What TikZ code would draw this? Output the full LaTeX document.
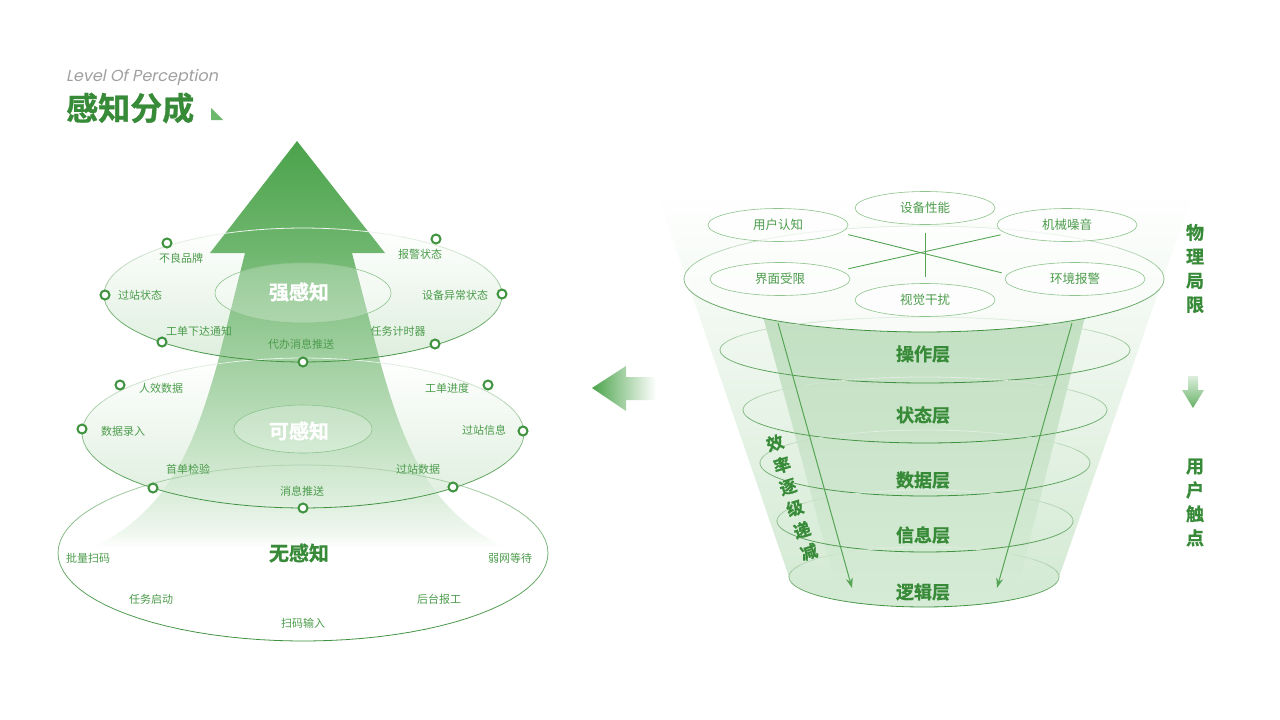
\documentclass[tikz,border=0pt]{standalone}
\usepackage{fontspec}
\setmainfont{Noto Sans CJK SC}
\newfontfamily\heavy{Noto Sans CJK SC Bold}[FakeBold=0.9]
\newfontfamily\levfont{Poppins}[FakeSlant=0.2]
\usetikzlibrary{shapes.geometric,arrows.meta}
\definecolor{gA}{HTML}{4BA34B}
\definecolor{gD}{HTML}{3E913E}
\definecolor{gT}{HTML}{378A37}
\definecolor{gL}{HTML}{4C9C4C}
\definecolor{gM}{HTML}{3F933F}
\definecolor{gO}{HTML}{8CC48C}
\definecolor{gF}{HTML}{DDEEDD}
\definecolor{gTri}{HTML}{6CB86C}
\definecolor{gGray}{HTML}{A0A0A0}
\definecolor{gLine}{HTML}{55A555}
\definecolor{gP1}{HTML}{EEF7EE}
\definecolor{gP2}{HTML}{DDEEDD}
\definecolor{gP3}{HTML}{CAE5CA}
\definecolor{gP4}{HTML}{B5DAB5}
\definecolor{gP5}{HTML}{A2D0A2}
\definecolor{gP6}{HTML}{88C388}
\definecolor{gP7}{HTML}{70B770}
\definecolor{gFunO}{HTML}{D2E9D2}
\definecolor{gBandT}{HTML}{C3E0C3}
\definecolor{gBandB}{HTML}{D6EBD6}
\pgfdeclareverticalshading{arrowshade}{100bp}{color(0bp)=(white); color(25bp)=(white); color(27bp)=(gP1); color(31bp)=(gP2); color(36bp)=(gP3); color(42bp)=(gP4); color(48bp)=(gP5); color(55.5bp)=(gP6); color(61bp)=(gP7); color(75bp)=(gA); color(100bp)=(gA)}
\newcommand\grell[6]{%
  \foreach \a in {0,12,...,348}{%
    \pgfmathtruncatemacro\pp{#5+(100-#5)*(1+sin(\a+6))/2}%
    \pgfmathsetmacro\bb{\a+12}%
    \draw[line width=#6,draw=gD!\pp!white,line cap=round]
      plot[domain=\a:\bb,samples=4,variable=\t] ({#1+#3*cos(\t)},{#2+#4*sin(\t)});
  }}
\begin{document}
\begin{tikzpicture}[x=1pt,y=-1pt,
  lab/.style={font=\fontsize{11}{13}\selectfont, text=gL, inner sep=0},
  mk/.style={circle, draw=gM, line width=2pt, fill=white, minimum size=9pt, inner sep=0},
  bigtxt/.style={font=\heavy\fontsize{20}{24}\selectfont, inner sep=0},
  layertxt/.style={font=\heavy\fontsize{18}{22}\selectfont, text=gT, inner sep=0},
  oval/.style={ellipse, draw=gO, line width=0.6pt, fill=white, fill opacity=0.55, text opacity=1,
    minimum width=140pt, minimum height=33pt, inner sep=0, font=\fontsize{12.5}{14}\selectfont, text=gL},
  inner/.style={ellipse, draw=gO, line width=0.6pt, fill=white, fill opacity=0.25, text opacity=1, inner sep=0},
  cross/.style={draw=gLine, line width=0.9pt, shorten <=8pt, shorten >=6pt},
  farrow/.style={draw=gLine, line width=1pt, -{Stealth[length=10pt,width=7pt]}},
  vtxt/.style={font=\heavy\fontsize{18}{24}\selectfont, text=gT, align=center, inner sep=0},
  etxt/.style={font=\heavy\fontsize{17}{20}\selectfont, text=gT, inner sep=0, rotate=17}
]
\useasboundingbox (0,0) rectangle (1280,720);
\fill[white] (0,0) rectangle (1280,720);

% ---------- title ----------
\node[anchor=west, font=\levfont\fontsize{16}{18}\selectfont, text=gGray, inner sep=0] (lvl) at (66,77) {Level Of Perception};
\node[anchor=west, font=\heavy\fontsize{32}{36}\selectfont, text=gT, inner sep=0] (ttl) at (66,108) {感知分成};
\fill[gTri] (211,108) -- (211,120) -- (223,120) -- cycle;

% ---------- left: perception layers ----------
\shade[top color=white, bottom color=gF] (303,433) ellipse [x radius=221, y radius=75];
\shade[top color=white, bottom color=gF] (303,295) ellipse [x radius=199, y radius=67];

% big arrow
\shade[shading=arrowshade] (297,141) -- (385,253) -- (352,253) -- (381,365)
  .. controls (405,450) and (430,510) .. (505,548) -- (93,548)
  .. controls (168,510) and (193,450) .. (217,365) -- (245,253) -- (210,253) -- cycle;

% outlines
\grell{303}{553}{245}{88}{40}{0.8pt}
\grell{303}{433}{221}{75}{12}{0.8pt}
\grell{303}{295}{199}{67}{8}{0.8pt}

\node[inner, minimum width=176pt, minimum height=60pt] (strong) at (303,293) {};
\node[bigtxt, text=white] (strongT) at (299,292) {强感知};
\node[inner, minimum width=138pt, minimum height=48pt] (can) at (303,429) {};
\node[bigtxt, text=white] (canT) at (299,431) {可感知};
\node[bigtxt, text=gT] (noneT) at (299,553) {无感知};

% markers
\node[mk] (m1) at (167,243) {};
\node[mk] (m2) at (436,239) {};
\node[mk] (m3) at (105,295) {};
\node[mk] (m4) at (502,294) {};
\node[mk] (m5) at (162,342) {};
\node[mk] (m6) at (435,344) {};
\node[mk] (m7) at (303,362) {};
\node[mk] (m8) at (120,385) {};
\node[mk] (m9) at (488,385) {};
\node[mk] (m10) at (82,429) {};
\node[mk] (m11) at (523,431) {};
\node[mk] (m12) at (153,488) {};
\node[mk] (m13) at (453,487) {};
\node[mk] (m14) at (303,508) {};

% labels
\node[lab] (l1) at (181,258) {不良品牌};
\node[lab] (l2) at (420,254) {报警状态};
\node[lab] (l3) at (140,295) {过站状态};
\node[lab] (l4) at (455,295) {设备异常状态};
\node[lab] (l5) at (199,331) {工单下达通知};
\node[lab] (l6) at (398,331) {任务计时器};
\node[lab] (l7) at (301,344) {代办消息推送};
\node[lab] (l8) at (161,388) {人效数据};
\node[lab] (l9) at (447,388) {工单进度};
\node[lab] (l10) at (123,431) {数据录入};
\node[lab] (l11) at (484,430) {过站信息};
\node[lab] (l12) at (188,469) {首单检验};
\node[lab] (l13) at (418,469) {过站数据};
\node[lab] (l14) at (302,491) {消息推送};
\node[lab] (l15) at (88,558) {批量扫码};
\node[lab] (l16) at (510,558) {弱网等待};
\node[lab] (l17) at (151,599) {任务启动};
\node[lab] (l18) at (439,599) {后台报工};
\node[lab] (l19) at (303,623) {扫码输入};

% ---------- middle arrow ----------
\shade[left color=gA, right color=white] (592,388) -- (626,366) -- (626,377) -- (656,377)
  -- (656,400) -- (626,400) -- (626,411) -- cycle;

% ---------- right: funnel ----------
\shade[top color=white, bottom color=gFunO] (656,190) -- (1194,190) -- (1059,577)
  -- plot[domain=0:180,samples=30,variable=\t] ({924+135*cos(\t)},{577+30*sin(\t)}) -- cycle;
\begin{scope}
  \clip (656,190) -- (1194,190) -- (1059,577)
    -- plot[domain=0:180,samples=30,variable=\t] ({924+135*cos(\t)},{577+30*sin(\t)}) -- cycle;
  \shade[top color=gBandT, bottom color=gBandB]
    plot[domain=48:132,samples=20,variable=\t] ({924+240*cos(\t)},{279+53*sin(\t)})
    -- (843,612) -- (1012,612) -- cycle;
\end{scope}

\fill[white, fill opacity=0.55] (924,279) ellipse [x radius=240, y radius=53];
\grell{924}{279}{240}{53}{15}{0.8pt}

\grell{925}{350}{205}{33}{15}{0.8pt}
\grell{925}{410}{182}{33}{15}{0.8pt}
\grell{925}{463}{165}{33}{15}{0.8pt}
\grell{925}{521}{148}{31}{15}{0.8pt}
\grell{924}{577}{135}{30}{15}{0.8pt}

\coordinate (fa1) at (778,323);
\coordinate (fa2) at (852,588);
\coordinate (fb1) at (1072,323);
\coordinate (fb2) at (997,588);
\draw[farrow] (fa1) -- (fa2);
\draw[farrow] (fb1) -- (fb2);

\node[oval] (sbxn) at (925,208) {设备性能};
\node[oval] (yhrz) at (778,225) {用户认知};
\node[oval] (jxzy) at (1067,225) {机械噪音};
\node[oval] (jmsx) at (780,279) {界面受限};
\node[oval] (hjbj) at (1075,279) {环境报警};
\node[oval] (sjgr) at (925,300) {视觉干扰};
\draw[cross] (yhrz.-7) -- (hjbj.176);
\draw[cross] (jmsx.8) -- (jxzy.188);
\draw[cross] (sbxn.south) -- (sjgr.north);

\node[layertxt] (t1) at (923,354) {操作层};
\node[layertxt] (t2) at (923,415) {状态层};
\node[layertxt] (t3) at (923,480) {数据层};
\node[layertxt] (t4) at (923,535) {信息层};
\node[layertxt] (t5) at (923,592) {逻辑层};

\node[etxt] (e1) at (775,443) {效};
\node[etxt] (e2) at (782,465) {率};
\node[etxt] (e3) at (788,487) {逐};
\node[etxt] (e4) at (795,508) {级};
\node[etxt] (e5) at (802,530) {递};
\node[etxt] (e6) at (809,552) {减};

\node[vtxt] (wl) at (1195,268.5) {物\\理\\局\\限};
\node[vtxt] (yh) at (1195,502.5) {用\\户\\触\\点};
\shade[top color=gP2, bottom color=gA!85!white] (1188,376) -- (1198,376) -- (1198,390) -- (1204,390)
  -- (1193,408) -- (1182,390) -- (1188,390) -- cycle;
\end{tikzpicture}
\end{document}
